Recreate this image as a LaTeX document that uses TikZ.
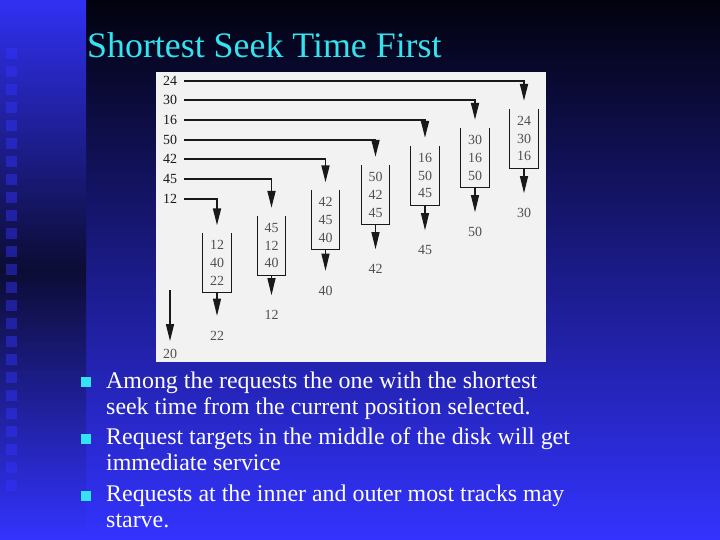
\documentclass[tikz,border=0pt]{standalone}
\usepackage{fontspec}
\setmainfont{Liberation Serif}
\usetikzlibrary{arrows.meta,positioning}
\definecolor{slidetop}{RGB}{2,2,14}
\definecolor{slidemid}{RGB}{30,30,160}
\definecolor{slidebot}{RGB}{51,51,255}
\definecolor{stripdark}{RGB}{12,12,52}
\definecolor{stripmid}{RGB}{40,40,190}
\definecolor{titlecyan}{RGB}{51,228,240}
\definecolor{scanbg}{RGB}{242,242,242}
\definecolor{ink}{RGB}{25,25,25}
\definecolor{pencil}{RGB}{80,80,80}
\tikzset{
  req/.style={draw=ink, line width=1.8bp, -{Triangle[width=8bp,length=17bp]}, shorten <=7bp, shorten >=8bp},
  res/.style={draw=ink, line width=1.2bp, -{Triangle[width=8bp,length=17bp]}, shorten >=15bp},
  track/.style={text=ink, inner sep=0pt, font=\fontsize{14}{15}\selectfont},
  queue/.style={text=pencil, inner sep=0pt, align=center, minimum width=28bp, minimum height=59bp, font=\fontsize{14}{18}\selectfont},
  served/.style={text=pencil, inner sep=0pt, font=\fontsize{14}{15}\selectfont},
  item/.style={text=white, anchor=base west, align=left, inner sep=0pt, font=\fontsize{24}{26}\selectfont},
  bul/.style={fill=titlecyan, minimum size=10bp, inner sep=0pt}
}

\begin{document}
\begin{tikzpicture}[x=1bp,y=-1bp]
  \useasboundingbox (0,0) rectangle (720,540);
  % slide background
  \shade[top color=slidetop, middle color=slidemid, bottom color=slidebot] (86,0) rectangle (720,540);
  \shade[top color=slidebot!95!black, middle color=stripmid, bottom color=stripdark] (0,0) rectangle (86,270);
  \shade[top color=stripdark, middle color=stripmid, bottom color=slidebot] (0,270) rectangle (86,540);
  \foreach \k in {0,...,24}
    \fill[slidebot, opacity=0.45] (6,48+18*\k) rectangle (17,59+18*\k);

  \node[anchor=base west, inner sep=0pt, text=titlecyan, font=\fontsize{36}{40}\selectfont] (ttl) at (87,58) {Shortest Seek Time First};

  % scanned figure
  \fill[scanbg] (156,72) rectangle (546,362);

  \node[track] (r24) at (170,81) {24};
  \node[track] (r30) at (170,100) {30};
  \node[track] (r16) at (170,120) {16};
  \node[track] (r50) at (170,140) {50};
  \node[track] (r42) at (170,159) {42};
  \node[track] (r45) at (170,179) {45};
  \node[track] (r12) at (170,199) {12};

  \node[queue] (q1) at (524,138.5) {24\\30\\16};
  \node[queue] (q2) at (475,157.5) {30\\16\\50};
  \node[queue] (q3) at (425,175.5) {16\\50\\45};
  \node[queue] (q4) at (375.5,194.5) {50\\42\\45};
  \node[queue] (q5) at (325.5,220) {42\\45\\40};
  \node[queue] (q6) at (271.5,245.5) {45\\12\\40};
  \node[queue] (q7) at (217,263) {12\\40\\22};
  \foreach \q in {q1,q2,q3,q4,q5,q6,q7}
    \draw[ink, line width=1bp] (\q.north west) |- (\q.south east) -- (\q.north east);

  \node[served, below=40bp of q1] (s1) {30};
  \node[served, below=40bp of q2] (s2) {50};
  \node[served, below=40bp of q3] (s3) {45};
  \node[served, below=40bp of q4] (s4) {42};
  \node[served, below=36bp of q5] (s5) {40};
  \node[served, below=35bp of q6] (s6) {12};
  \node[served, below=38bp of q7] (s7) {22};

  \draw[req] (r24.east) -| (q1.north);
  \draw[req] (r30.east) -| (q2.north);
  \draw[req] (r16.east) -| (q3.north);
  \draw[req] (r50.east) -| (q4.north);
  \draw[req] (r42.east) -| (q5.north);
  \draw[req] (r45.east) -| (q6.north);
  \draw[req] (r12.east) -| (q7.north);
  \foreach \i in {1,...,7}
    \draw[res] (q\i.south) -- (s\i.north);

  \coordinate (c0) at (170,290);
  \node[served] (s0) at (170,354) {20};
  \draw[res, shorten >=8bp] (c0) -- (s0.north);

  % bullets
  \node[bul] (m1) at (86,382) {};
  \node[bul] (m2) at (86,439) {};
  \node[bul] (m3) at (86,496) {};
  \node[item] (b1) at (106,414) {Among the requests the one with the shortest\\seek time from the current position selected.};
  \node[item] (b2) at (106,470) {Request targets in the middle of the disk will get\\immediate service};
  \node[item] (b3) at (106,527) {Requests at the inner and outer most tracks may\\starve.};
\end{tikzpicture}
\end{document}
